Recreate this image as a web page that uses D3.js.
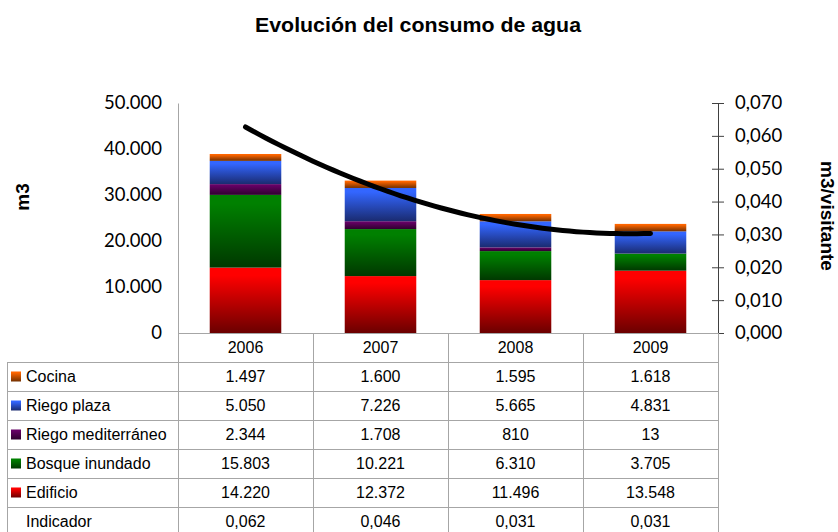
<!DOCTYPE html>
<html><head><meta charset="utf-8">
<script src="https://cdn.jsdelivr.net/npm/d3@7"></script>
<style>body{margin:0;background:#fff} svg{display:block}</style>
</head><body><svg id="c" width="838" height="532"></svg>
<script>
// ---------- data ----------
const years = ["2006", "2007", "2008", "2009"];
const cocina = [1497, 1600, 1595, 1618];
const riegoPlaza = [5050, 7226, 5665, 4831];
const riegoMed = [2344, 1708, 810, 13];
const bosque = [15803, 10221, 6310, 3705];
const edificio = [14220, 12372, 11496, 13548];
const indicador = [0.062, 0.046, 0.031, 0.031];
const leftTicks = [0, 10000, 20000, 30000, 40000, 50000];
const rightTicks = [0, 0.01, 0.02, 0.03, 0.04, 0.05, 0.06, 0.07];
const seriesKeys = ["Edificio", "Bosque inundado", "Riego mediterráneo", "Riego plaza", "Cocina"];
const seriesValues = [edificio, bosque, riegoMed, riegoPlaza, cocina];
const tableOrder = ["Cocina", "Riego plaza", "Riego mediterráneo", "Bosque inundado", "Edificio"];
const title = "Evolución del consumo de agua";
const leftTitle = "m3";
const rightTitle = "m3/visitante";
const indicadorLabel = "Indicador";

// ---------- styles ----------
const gradColors = {
  "Edificio": ["#ff0000", "#6b0000"],
  "Bosque inundado": ["#008000", "#003800"],
  "Riego mediterráneo": ["#660066", "#2e002e"],
  "Riego plaza": ["#3366ff", "#1a2b70"],
  "Cocina": ["#ff6600", "#733000"]
};
const gridColor = "#a6a6a6";
const tickFont = "Lato, 'Open Sans', sans-serif";
const tableFont = "'Liberation Sans', Arial, sans-serif";

const svg = d3.select("#c");
const fmtInt = d3.formatLocale({decimal: ",", thousands: ".", grouping: [3], currency: ["", "€"]});
const fL = fmtInt.format(",");
const fR = fmtInt.format(",.3f");

const plotL = 178, plotR = 718, plotT = 103, plotB = 333;
const rowH = 29;

const x = d3.scaleBand().domain(years).range([plotL, plotR]).padding(0);
const barW = x.bandwidth() * 0.53;
const yL = d3.scaleLinear().domain([0, 50000]).range([plotB, plotT]);
const yR = d3.scaleLinear().domain([0, 0.07]).range([plotB, plotT]);

// gradients
const defs = svg.append("defs");
seriesKeys.forEach((k, i) => {
  const g = defs.append("linearGradient").attr("id", "g" + i)
    .attr("x1", 0).attr("y1", 0).attr("x2", 0).attr("y2", 1);
  g.append("stop").attr("offset", "0").attr("stop-color", gradColors[k][0]);
  g.append("stop").attr("offset", "0.12").attr("stop-color", gradColors[k][0]);
  g.append("stop").attr("offset", "1").attr("stop-color", gradColors[k][1]);
});

// title
svg.append("text").attr("x", 255).attr("y", 32)
  .attr("font-family", tableFont).attr("font-weight", "bold").attr("font-size", 20)
  .attr("textLength", 326).attr("lengthAdjust", "spacingAndGlyphs")
  .text(title);

// stacked data
const rows = years.map((y, j) => {
  const o = {year: y};
  seriesKeys.forEach((k, i) => o[k] = seriesValues[i][j]);
  return o;
});
const stacked = d3.stack().keys(seriesKeys)(rows);

svg.append("g").selectAll("g").data(stacked).join("g")
  .attr("fill", (d, i) => `url(#g${i})`)
  .selectAll("rect").data(d => d).join("rect")
  .attr("x", d => x(d.data.year) + (x.bandwidth() - barW) / 2)
  .attr("width", barW)
  .attr("y", d => yL(d[1]))
  .attr("height", d => yL(d[0]) - yL(d[1]));

// left axis
const gL = svg.append("g").attr("transform", `translate(${plotL},0)`)
  .call(d3.axisLeft(yL).tickValues(leftTicks).tickFormat(fL).tickSize(0).tickSizeOuter(0).tickPadding(16));
gL.select(".domain").attr("stroke", gridColor);
gL.selectAll("text").attr("font-family", tickFont).attr("font-size", 18.5).attr("fill", "#000");

// right axis
const gR = svg.append("g").attr("transform", `translate(${plotR},0)`)
  .call(d3.axisRight(yR).tickValues(rightTicks).tickFormat(fR).tickSize(6).tickSizeOuter(0).tickPadding(11));
gR.select(".domain").attr("stroke", "#404040");
gR.selectAll(".tick line").attr("x1", -6).attr("stroke", "#404040");
gR.selectAll("text").attr("font-family", tickFont).attr("font-size", 18.5).attr("fill", "#000");

// axis titles
svg.append("text").attr("transform", "translate(29,197) rotate(-90)")
  .attr("text-anchor", "middle").attr("font-family", tableFont).attr("font-weight", "bold")
  .attr("font-size", 19).text(leftTitle);
svg.append("text").attr("transform", "translate(821,216) rotate(90)")
  .attr("text-anchor", "middle").attr("font-family", tableFont).attr("font-weight", "bold")
  .attr("font-size", 19).text(rightTitle);

// trendline: least-squares quadratic of the indicator values
function polyfit2(ys) {
  const xs = ys.map((_, i) => i);
  const S = k => d3.sum(xs, v => Math.pow(v, k));
  const T = k => d3.sum(xs, (v, i) => Math.pow(v, k) * ys[i]);
  const A = [[S(0), S(1), S(2)], [S(1), S(2), S(3)], [S(2), S(3), S(4)]];
  const b = [T(0), T(1), T(2)];
  for (let c = 0; c < 3; c++) {
    for (let r = c + 1; r < 3; r++) {
      const f = A[r][c] / A[c][c];
      for (let k = c; k < 3; k++) A[r][k] -= f * A[c][k];
      b[r] -= f * b[c];
    }
  }
  const s = [0, 0, 0];
  for (let r = 2; r >= 0; r--) {
    let v = b[r];
    for (let k = r + 1; k < 3; k++) v -= A[r][k] * s[k];
    s[r] = v / A[r][r];
  }
  return t => s[0] + s[1] * t + s[2] * t * t;
}
const trend = polyfit2(indicador);
const xt = d3.scaleLinear().domain([0, years.length - 1])
  .range([x(years[0]) + x.bandwidth() / 2, x(years[years.length - 1]) + x.bandwidth() / 2]);
const ts = d3.range(0, years.length - 1 + 1e-9, 0.05);
svg.append("path").datum(ts)
  .attr("fill", "none").attr("stroke", "#000").attr("stroke-width", 5).attr("stroke-linecap", "round")
  .attr("d", d3.line().x(t => xt(t)).y(t => yR(trend(t))).curve(d3.curveLinear));

// ---------- data table ----------
const tbl = svg.append("g").attr("shape-rendering", "crispEdges").attr("stroke", gridColor).attr("stroke-width", 1);
const tableLeft = 7;
const headTop = plotB, headBot = plotB + rowH;
const nRows = tableOrder.length + 1;
const tableBot = headBot + nRows * rowH;
tbl.append("line").attr("x1", plotL).attr("x2", plotR).attr("y1", headTop + 0.5).attr("y2", headTop + 0.5);
const colEdges = years.map(y => x(y)).concat([x(years[years.length - 1]) + x.bandwidth()]);
tbl.selectAll(".cv").data(colEdges).join("line")
  .attr("x1", d => d + 0.5).attr("x2", d => d + 0.5).attr("y1", headTop).attr("y2", tableBot);
const rowLines = d3.range(nRows + 1).map(i => headBot + i * rowH);
tbl.selectAll(".rh").data(rowLines).join("line")
  .attr("x1", tableLeft).attr("x2", plotR).attr("y1", d => d + 0.5).attr("y2", d => d + 0.5);
tbl.append("line").attr("x1", tableLeft + 0.5).attr("x2", tableLeft + 0.5).attr("y1", headBot).attr("y2", tableBot);

const tt = svg.append("g").attr("font-family", tableFont).attr("font-size", 16).attr("fill", "#000");
tt.selectAll(".yr").data(years).join("text")
  .attr("x", d => x(d) + x.bandwidth() / 2).attr("y", (headTop + headBot) / 2).attr("dy", "0.36em")
  .attr("text-anchor", "middle").text(d => d);

const tableRows = tableOrder.map(k => ({name: k, values: seriesValues[seriesKeys.indexOf(k)], idx: seriesKeys.indexOf(k), fmt: fL}))
  .concat([{name: indicadorLabel, values: indicador, idx: -1, fmt: fR}]);
tableRows.forEach((r, i) => {
  const cy = headBot + i * rowH + rowH / 2;
  if (r.idx >= 0) {
    svg.append("rect").attr("x", 11).attr("y", cy - 5).attr("width", 10).attr("height", 10)
      .attr("fill", `url(#g${r.idx})`);
  }
  tt.append("text").attr("x", 26).attr("y", cy).attr("dy", "0.36em").text(r.name);
  tt.selectAll(null).data(r.values).join("text")
    .attr("x", (d, j) => x(years[j]) + x.bandwidth() / 2).attr("y", cy).attr("dy", "0.36em")
    .attr("text-anchor", "middle").text(d => r.fmt(d));
});
</script>
</body></html>
